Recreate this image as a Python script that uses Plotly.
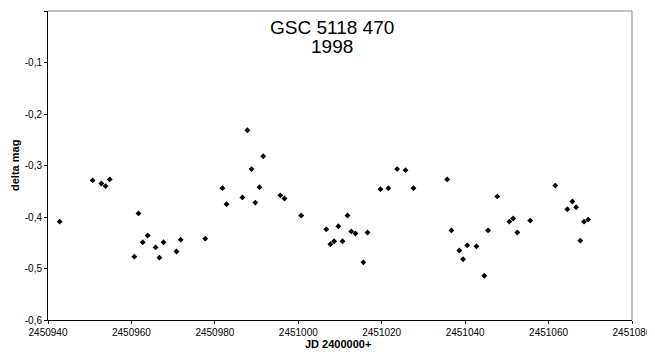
import plotly.graph_objects as go

jd = [2450942.8, 2450950.7, 2450952.8, 2450953.8, 2450954.8, 2450960.7, 2450961.7,
      2450962.7, 2450963.9, 2450965.8, 2450966.7, 2450967.7, 2450970.8, 2450971.8,
      2450977.7, 2450981.8, 2450982.8, 2450986.6, 2450987.8, 2450988.8, 2450989.7,
      2450990.7, 2450991.6, 2450995.7, 2450996.7, 2451000.7, 2451006.7, 2451007.7,
      2451008.6, 2451009.6, 2451010.6, 2451011.8, 2451012.7, 2451013.7, 2451015.6,
      2451016.6, 2451019.7, 2451021.6, 2451023.7, 2451025.7, 2451027.6, 2451035.7,
      2451036.7, 2451038.6, 2451039.5, 2451040.5, 2451042.7, 2451044.6, 2451045.5,
      2451047.7, 2451050.6, 2451051.5, 2451052.5, 2451055.6, 2451061.6, 2451064.5,
      2451065.7, 2451066.6, 2451067.6, 2451068.5, 2451069.5]
dmag = [-0.409, -0.329, -0.335, -0.340, -0.327, -0.477, -0.393,
        -0.449, -0.436, -0.459, -0.479, -0.449, -0.467, -0.444,
        -0.442, -0.344, -0.375, -0.362, -0.2315, -0.307, -0.372,
        -0.342, -0.282, -0.358, -0.364, -0.397, -0.424, -0.453,
        -0.447, -0.418, -0.447, -0.397, -0.428, -0.432, -0.488,
        -0.430, -0.346, -0.344, -0.307, -0.309, -0.344, -0.327,
        -0.426, -0.465, -0.482, -0.455, -0.457, -0.514, -0.426,
        -0.360, -0.409, -0.403, -0.430, -0.407, -0.339, -0.385,
        -0.370, -0.381, -0.446, -0.409, -0.405]

x_ticks = [2450940, 2450960, 2450980, 2451000, 2451020, 2451040, 2451060, 2451080]
y_ticks = [0, -0.1, -0.2, -0.3, -0.4, -0.5, -0.6]
y_tick_labels = ["0", "-0,1", "-0,2", "-0,3", "-0,4", "-0,5", "-0,6"]

title_line1 = "GSC 5118 470"
title_line2 = "1998"
x_title = "JD 2400000+"
y_title = "delta mag"

font = "Liberation Sans, Arial, sans-serif"

fig = go.Figure()
fig.add_trace(go.Scatter(
    x=jd, y=dmag, mode="markers",
    marker=dict(symbol="diamond", size=4.5, color="black"),
    showlegend=False, hoverinfo="x+y"))

# page has an 8px body margin; figure is sized to fit the 655x360 window
OFF = 8
W, H = 655 - OFF, 360 - 2 * OFF
L, T = 48 - OFF, 11 - OFF
R = W - (632 - OFF)
B = H - (320 - OFF)
pw = W - L - R
ph = H - T - B

def px_x(p):
    return (p - OFF - L) / pw

def px_y(p):
    return 1 - (p - OFF - T) / ph

fig.update_layout(
    width=W, height=H,
    margin=dict(l=L, r=R, t=T, b=B, pad=0),
    paper_bgcolor="white", plot_bgcolor="white",
    font=dict(family=font, size=10, color="black"),
    xaxis=dict(range=[x_ticks[0], x_ticks[-1]], tickvals=x_ticks,
               tickformat="d", showgrid=False, zeroline=False,
               showline=True, linecolor="black", linewidth=1,
               ticks="outside", ticklen=3, tickcolor="black",
               tickfont=dict(size=10, family=font)),
    yaxis=dict(range=[-0.6, 0], tickvals=y_ticks, ticktext=y_tick_labels,
               showgrid=False, zeroline=False,
               showline=True, linecolor="black", linewidth=1,
               ticks="outside", ticklen=3, tickcolor="black",
               tickfont=dict(size=10, family=font)),
    shapes=[
        dict(type="line", xref="paper", yref="paper", x0=0, x1=1, y0=1, y1=1,
             line=dict(color="#808080", width=1)),
        dict(type="line", xref="paper", yref="paper", x0=1, x1=1, y0=0, y1=1,
             line=dict(color="#808080", width=1)),
    ],
    annotations=[
        dict(text=title_line1, xref="paper", yref="paper", x=px_x(332), y=px_y(27),
             showarrow=False, xanchor="center", yanchor="middle",
             font=dict(size=19, family=font, color="black")),
        dict(text=title_line2, xref="paper", yref="paper", x=px_x(332), y=px_y(47),
             showarrow=False, xanchor="center", yanchor="middle",
             font=dict(size=19, family=font, color="black")),
        dict(text="<b>" + x_title + "</b>", xref="paper", yref="paper",
             x=px_x(338), y=px_y(344), showarrow=False,
             xanchor="center", yanchor="middle",
             font=dict(size=11, family=font, color="black")),
        dict(text="<b>" + y_title + "</b>", xref="paper", yref="paper",
             x=px_x(15), y=px_y(166), showarrow=False, textangle=-90,
             xanchor="center", yanchor="middle",
             font=dict(size=11, family=font, color="black")),
    ],
)

fig.write_html("out.html")
